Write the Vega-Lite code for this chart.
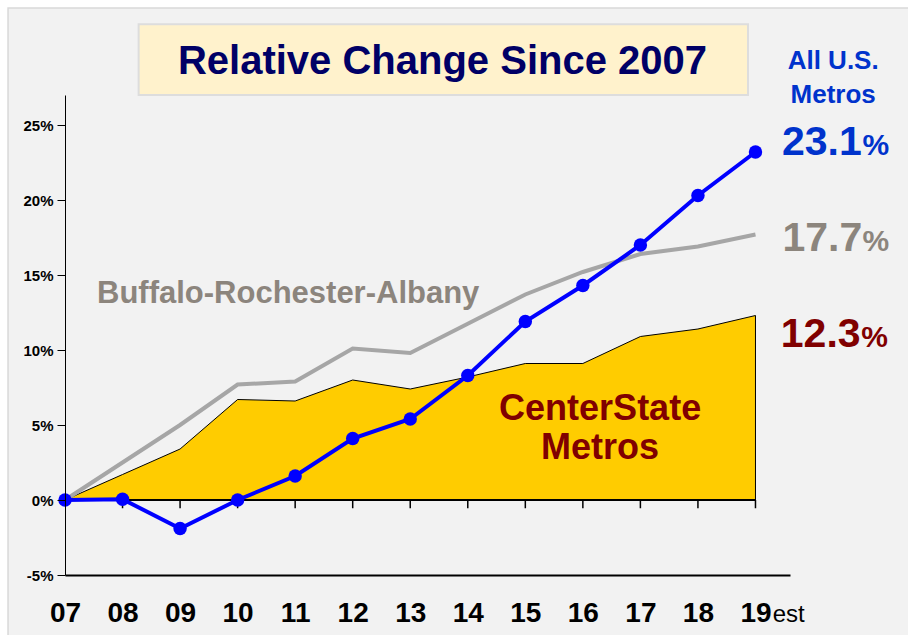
{
  "$schema": "https://vega.github.io/schema/vega-lite/v6.json",
  "width": 725,
  "height": 480,
  "autosize": {"type": "none"},
  "padding": {"left": 65, "top": 95, "right": 118, "bottom": 60},
  "background": "#ffffff",
  "config": {"view": {"stroke": null}, "font": "Liberation Sans", "axis": {"title": null, "grid": false}},
  "datasets": {
    "series": [
      {"yr": 7, "cs": 0, "bra": 0, "us": 0},
      {"yr": 8, "cs": 1.7, "bra": 2.5, "us": 0.05},
      {"yr": 9, "cs": 3.4, "bra": 5.0, "us": -1.9},
      {"yr": 10, "cs": 6.7, "bra": 7.7, "us": 0.0},
      {"yr": 11, "cs": 6.6, "bra": 7.9, "us": 1.6},
      {"yr": 12, "cs": 8.0, "bra": 10.1, "us": 4.1},
      {"yr": 13, "cs": 7.4, "bra": 9.8, "us": 5.4},
      {"yr": 14, "cs": 8.2, "bra": 11.75, "us": 8.3},
      {"yr": 15, "cs": 9.1, "bra": 13.7, "us": 11.9},
      {"yr": 16, "cs": 9.1, "bra": 15.2, "us": 14.3},
      {"yr": 17, "cs": 10.9, "bra": 16.4, "us": 17.0},
      {"yr": 18, "cs": 11.4, "bra": 16.9, "us": 20.3},
      {"yr": 19, "cs": 12.3, "bra": 17.7, "us": 23.2}
    ]
  },
  "data": {"name": "series"},
  "layer": [
    {
      "data": {"values": [{}]},
      "mark": {"type": "rect", "fill": "#F2F2F2", "stroke": "#D9D9D9", "strokeWidth": 1.5},
      "encoding": {
        "x": {"datum": 6.01, "type": "quantitative", "scale": {"domain": [7, 19.6], "nice": false, "zero": false}},
        "x2": {"datum": 22},
        "y": {"datum": 32.8, "type": "quantitative", "scale": {"domain": [-5, 27], "nice": false, "zero": false}},
        "y2": {"datum": -10}
      }
    },
    {
      "data": {"values": [{}]},
      "mark": {"type": "rect", "fill": "#FFF2CC", "stroke": "#DDDDDD", "strokeWidth": 2},
      "encoding": {
        "x": {"datum": 8.28, "type": "quantitative", "scale": {"domain": [7, 19.6], "nice": false, "zero": false}},
        "x2": {"datum": 18.87},
        "y": {"datum": 31.71, "type": "quantitative", "scale": {"domain": [-5, 27], "nice": false, "zero": false}},
        "y2": {"datum": 27.0}
      }
    },
    {
      "mark": {"type": "area", "fill": "#FFCC00", "stroke": "black", "strokeWidth": 1},
      "encoding": {
        "x": {"field": "yr", "type": "quantitative", "scale": {"domain": [7, 19.6], "nice": false, "zero": false},
          "axis": {"zindex": 1, "values": [7, 8, 9, 10, 11, 12, 13, 14, 15, 16, 17, 18, 19], "labelExpr": "datum.value < 10 ? '0' + datum.value : '' + datum.value", "ticks": false, "tickSize": 0, "domainColor": "black", "domainWidth": 2, "labelFontSize": 28, "labelFontWeight": "bold", "labelColor": "black", "labelBaseline": "alphabetic", "labelPadding": 46, "labelFlush": false, "labelOverlap": false, "title": null}},
        "y": {"field": "cs", "type": "quantitative", "scale": {"domain": [-5, 27], "nice": false, "zero": false},
          "axis": {"zindex": 1, "values": [-5, 0, 5, 10, 15, 20, 25], "labelExpr": "datum.value + '%'", "tickSize": 8, "tickColor": "black", "tickWidth": 1, "domainColor": "black", "domainWidth": 1, "labelFontSize": 15, "labelFontWeight": "bold", "labelColor": "black", "labelPadding": 4, "labelFlush": false, "labelOverlap": false, "title": null}}
      }
    },
    {
      "data": {"values": [{}]},
      "mark": {"type": "rule", "color": "black", "strokeWidth": 2},
      "encoding": {
        "x": {"datum": 7, "type": "quantitative", "scale": {"domain": [7, 19.6], "nice": false, "zero": false}},
        "x2": {"datum": 19},
        "y": {"datum": 0, "type": "quantitative", "scale": {"domain": [-5, 27], "nice": false, "zero": false}}
      }
    },
    {
      "transform": [{"filter": "datum.yr > 7"}],
      "mark": {"type": "rule", "color": "black", "strokeWidth": 1.5},
      "encoding": {
        "x": {"field": "yr", "type": "quantitative", "scale": {"domain": [7, 19.6], "nice": false, "zero": false}},
        "y": {"datum": 0, "type": "quantitative", "scale": {"domain": [-5, 27], "nice": false, "zero": false}},
        "y2": {"datum": -0.55}
      }
    },
    {
      "mark": {"type": "line", "color": "#A6A6A6", "strokeWidth": 4},
      "encoding": {
        "x": {"field": "yr", "type": "quantitative", "scale": {"domain": [7, 19.6], "nice": false, "zero": false}},
        "y": {"field": "bra", "type": "quantitative", "scale": {"domain": [-5, 27], "nice": false, "zero": false}}
      }
    },
    {
      "mark": {"type": "line", "color": "#0000FF", "strokeWidth": 4, "point": {"filled": true, "size": 180, "color": "#0000FF"}},
      "encoding": {
        "x": {"field": "yr", "type": "quantitative", "scale": {"domain": [7, 19.6], "nice": false, "zero": false}},
        "y": {"field": "us", "type": "quantitative", "scale": {"domain": [-5, 27], "nice": false, "zero": false}}
      }
    },
    {
      "data": {"values": [{}]},
      "mark": {"type": "text", "font": "Liberation Sans", "fontWeight": "bold", "fontSize": 40, "color": "#000066", "align": "center", "baseline": "alphabetic"},
      "encoding": {
        "x": {"datum": 13.56, "type": "quantitative", "scale": {"domain": [7, 19.6], "nice": false, "zero": false}},
        "y": {"datum": 28.38, "type": "quantitative", "scale": {"domain": [-5, 27], "nice": false, "zero": false}},
        "text": {"value": "Relative Change Since 2007"}
      }
    },
    {
      "data": {"values": [{}]},
      "mark": {"type": "text", "font": "Liberation Sans", "fontWeight": "bold", "fontSize": 26, "color": "#0033CC", "align": "center", "baseline": "alphabetic", "lineHeight": 34},
      "encoding": {
        "x": {"datum": 20.35, "type": "quantitative", "scale": {"domain": [7, 19.6], "nice": false, "zero": false}},
        "y": {"datum": 28.71, "type": "quantitative", "scale": {"domain": [-5, 27], "nice": false, "zero": false}},
        "text": {"value": ["All U.S.", "Metros"]}
      }
    },
    {
      "data": {"values": [{}]},
      "mark": {"type": "text", "font": "Liberation Sans", "fontWeight": "bold", "fontSize": 41, "color": "#0033CC", "align": "left", "baseline": "alphabetic"},
      "encoding": {
        "x": {"datum": 19.46, "type": "quantitative", "scale": {"domain": [7, 19.6], "nice": false, "zero": false}},
        "y": {"datum": 23.0, "type": "quantitative", "scale": {"domain": [-5, 27], "nice": false, "zero": false}},
        "text": {"value": "23.1"}
      }
    },
    {
      "data": {"values": [{}]},
      "mark": {"type": "text", "font": "Liberation Sans", "fontWeight": "bold", "fontSize": 30, "color": "#0033CC", "align": "left", "baseline": "alphabetic"},
      "encoding": {
        "x": {"datum": 20.86, "type": "quantitative", "scale": {"domain": [7, 19.6], "nice": false, "zero": false}},
        "y": {"datum": 23.0, "type": "quantitative", "scale": {"domain": [-5, 27], "nice": false, "zero": false}},
        "text": {"value": "%"}
      }
    },
    {
      "data": {"values": [{}]},
      "mark": {"type": "text", "font": "Liberation Sans", "fontWeight": "bold", "fontSize": 41, "color": "#8C857D", "align": "left", "baseline": "alphabetic"},
      "encoding": {
        "x": {"datum": 19.47, "type": "quantitative", "scale": {"domain": [7, 19.6], "nice": false, "zero": false}},
        "y": {"datum": 16.62, "type": "quantitative", "scale": {"domain": [-5, 27], "nice": false, "zero": false}},
        "text": {"value": "17.7"}
      }
    },
    {
      "data": {"values": [{}]},
      "mark": {"type": "text", "font": "Liberation Sans", "fontWeight": "bold", "fontSize": 30, "color": "#8C857D", "align": "left", "baseline": "alphabetic"},
      "encoding": {
        "x": {"datum": 20.86, "type": "quantitative", "scale": {"domain": [7, 19.6], "nice": false, "zero": false}},
        "y": {"datum": 16.62, "type": "quantitative", "scale": {"domain": [-5, 27], "nice": false, "zero": false}},
        "text": {"value": "%"}
      }
    },
    {
      "data": {"values": [{}]},
      "mark": {"type": "text", "font": "Liberation Sans", "fontWeight": "bold", "fontSize": 41, "color": "#800000", "align": "left", "baseline": "alphabetic"},
      "encoding": {
        "x": {"datum": 19.44, "type": "quantitative", "scale": {"domain": [7, 19.6], "nice": false, "zero": false}},
        "y": {"datum": 10.22, "type": "quantitative", "scale": {"domain": [-5, 27], "nice": false, "zero": false}},
        "text": {"value": "12.3"}
      }
    },
    {
      "data": {"values": [{}]},
      "mark": {"type": "text", "font": "Liberation Sans", "fontWeight": "bold", "fontSize": 30, "color": "#800000", "align": "left", "baseline": "alphabetic"},
      "encoding": {
        "x": {"datum": 20.84, "type": "quantitative", "scale": {"domain": [7, 19.6], "nice": false, "zero": false}},
        "y": {"datum": 10.22, "type": "quantitative", "scale": {"domain": [-5, 27], "nice": false, "zero": false}},
        "text": {"value": "%"}
      }
    },
    {
      "data": {"values": [{}]},
      "mark": {"type": "text", "font": "Liberation Sans", "fontWeight": "bold", "fontSize": 31, "color": "#8C857D", "align": "left", "baseline": "alphabetic"},
      "encoding": {
        "x": {"datum": 7.556, "type": "quantitative", "scale": {"domain": [7, 19.6], "nice": false, "zero": false}},
        "y": {"datum": 13.13, "type": "quantitative", "scale": {"domain": [-5, 27], "nice": false, "zero": false}},
        "text": {"value": "Buffalo-Rochester-Albany"}
      }
    },
    {
      "data": {"values": [{}]},
      "mark": {"type": "text", "font": "Liberation Sans", "fontWeight": "bold", "fontSize": 36, "color": "#800000", "align": "center", "baseline": "alphabetic", "lineHeight": 39},
      "encoding": {
        "x": {"datum": 16.3, "type": "quantitative", "scale": {"domain": [7, 19.6], "nice": false, "zero": false}},
        "y": {"datum": 5.33, "type": "quantitative", "scale": {"domain": [-5, 27], "nice": false, "zero": false}},
        "text": {"value": ["CenterState", "Metros"]}
      }
    },
    {
      "data": {"values": [{}]},
      "mark": {"type": "text", "font": "Liberation Sans", "fontSize": 24, "color": "black", "align": "left", "baseline": "alphabetic"},
      "encoding": {
        "x": {"datum": 19.3, "type": "quantitative", "scale": {"domain": [7, 19.6], "nice": false, "zero": false}},
        "y": {"datum": -8.11, "type": "quantitative", "scale": {"domain": [-5, 27], "nice": false, "zero": false}},
        "text": {"value": "est"}
      }
    }
  ]
}
